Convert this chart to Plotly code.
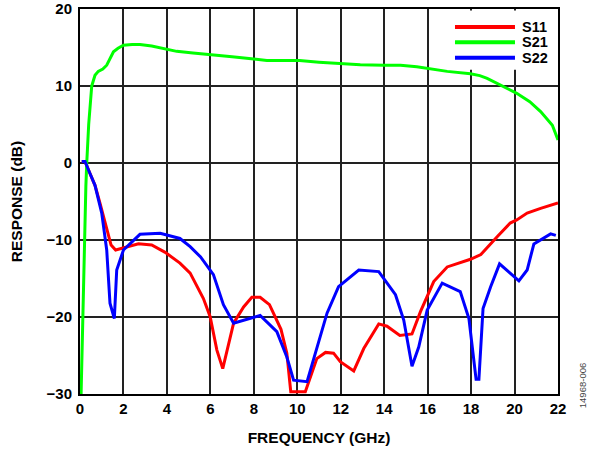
import plotly.graph_objects as go

# ---- data ----
freq_s21 = [0.05, 0.12, 0.2, 0.27, 0.31, 0.4, 0.54, 0.69, 0.84, 1.05, 1.23, 1.4, 1.54, 1.75,
            2.0, 2.4, 2.76, 3.3, 4.0, 4.45, 5.2, 6.0, 7.0, 8.0, 8.6, 9.5, 10.1, 11.0, 12.0,
            12.9, 14.0, 14.75, 15.5, 16.0, 16.9, 17.97, 18.4, 18.74, 19.35, 20.1, 20.7,
            21.2, 21.74, 22.0]
s21 = [-30, -20, -10, -3, 0, 5, 10, 11.4, 11.9, 12.2, 12.7, 13.6, 14.45, 14.9,
       15.3, 15.4, 15.4, 15.2, 14.8, 14.5, 14.3, 14.1, 13.8, 13.5, 13.3, 13.3, 13.3, 13.1, 12.95,
       12.75, 12.7, 12.7, 12.5, 12.3, 11.9, 11.6, 11.35, 11.0, 10.1, 9.05, 7.96,
       6.67, 4.9, 3.0]

freq_s11 = [0.08, 0.23, 0.45, 0.69, 0.92, 1.15, 1.43, 1.64, 1.92, 2.2, 2.69, 3.3, 3.92, 4.6,
            5.07, 5.68, 5.99, 6.3, 6.57, 7.07, 7.53, 7.91, 8.29, 8.72, 9.25, 9.52, 9.7, 10.37,
            10.9, 11.3, 11.67, 11.98, 12.6, 13.06, 13.75, 14.13, 14.72, 15.28, 15.67, 16.28,
            16.9, 17.97, 18.45, 19.2, 19.8, 20.1, 20.58, 21.2, 22.0]
s11 = [0.2, 0.2, -1.3, -2.9, -5.2, -7.8, -10.65, -11.3, -11.1, -10.8, -10.5, -10.65, -11.6, -13.0,
       -14.3, -17.6, -19.96, -24.3, -26.7, -20.8, -18.7, -17.45, -17.45, -18.4, -21.6, -24.7, -29.7, -29.7,
       -25.4, -24.6, -24.7, -25.8, -27.0, -24.1, -20.9, -21.2, -22.4, -22.2, -19.3, -15.4,
       -13.5, -12.5, -11.9, -9.57, -7.8, -7.4, -6.5, -5.9, -5.2]

freq_s22 = [0.08, 0.23, 0.45, 0.69, 1.0, 1.23, 1.38, 1.58, 1.69, 2.0, 2.76, 3.69, 4.6, 5.07,
            5.55, 6.14, 6.6, 7.07, 8.29, 9.06, 9.52, 9.83, 10.45, 11.37, 11.9, 12.83, 13.75,
            14.52, 14.9, 15.28, 15.59, 15.98, 16.67, 17.5, 17.9, 18.23, 18.36, 18.55, 18.9,
            19.31, 20.2, 20.58, 20.89, 21.66, 21.9]
s22 = [0.2, 0.2, -1.3, -2.9, -6.5, -11.3, -18.2, -20.2, -13.9, -11.3, -9.26, -9.13, -9.8, -10.87,
       -12.2, -14.5, -18.4, -20.8, -19.8, -21.9, -25.2, -28.2, -28.4, -19.5, -16.06, -13.9, -14.1,
       -17.1, -20.4, -26.4, -23.9, -19.1, -15.6, -16.7, -20.2, -28.1, -28.1, -18.9, -16.06,
       -13.1, -15.3, -13.9, -10.5, -9.2, -9.4]

series_names = ["S11", "S21", "S22"]
series_colors = ["#ff0000", "#00ff00", "#0000ff"]
x_ticks = [0, 2, 4, 6, 8, 10, 12, 14, 16, 18, 20, 22]
y_ticks = [-30, -20, -10, 0, 10, 20]

FONT = "Liberation Sans, Arial, sans-serif"

fig = go.Figure()
for fx, fy, nm, col in zip([freq_s11, freq_s21, freq_s22], [s11, s21, s22],
                           series_names, series_colors):
    fig.add_trace(go.Scatter(x=fx, y=fy, name=nm, mode="lines",
                             line=dict(color=col, width=3), showlegend=False))

# legend panel (white box hiding gridlines, long line samples, bold labels)
fig.add_shape(type="rect", xref="paper", yref="paper", x0=0.774, x1=0.997, y0=0.842, y1=0.996,
              fillcolor="white", line=dict(width=0), layer="above")
legend_rows = [0.9532, 0.9135, 0.8735]
for nm, col, ry in zip(series_names, series_colors, legend_rows):
    fig.add_shape(type="line", xref="paper", yref="paper", x0=0.7845, x1=0.910, y0=ry, y1=ry,
                  line=dict(color=col, width=4), layer="above")
    fig.add_annotation(text=nm, xref="paper", yref="paper", x=0.9215, y=ry,
                       xanchor="left", yanchor="middle", showarrow=False,
                       font=dict(family=FONT, size=14.5, color="black", weight="bold"))

fig.add_annotation(text="14968-006", xref="paper", yref="paper", x=1.067, y=-0.042,
                   textangle=-90, showarrow=False,
                   font=dict(family=FONT, size=9.5, color="#444"))

fig.update_layout(
    width=599, height=450,
    margin=dict(l=80, r=41, t=9, b=56, autoexpand=False),
    paper_bgcolor="white", plot_bgcolor="white",
    font=dict(family=FONT, color="black"),
    showlegend=False,
)
fig.update_xaxes(range=[0, 22], tickvals=x_ticks, showgrid=True, gridcolor="#222",
                 gridwidth=1.5, showline=True, linecolor="black", linewidth=2, mirror=True,
                 zeroline=False, ticks="", ticklabelstandoff=0,
                 tickfont=dict(family=FONT, size=15, color="black", weight="bold"),
                 title=dict(text="FREQUENCY (GHz)", standoff=16,
                            font=dict(family=FONT, size=15.5, color="black", weight="bold")))
fig.update_yaxes(range=[-30, 20], tickvals=y_ticks, showgrid=True, gridcolor="#222",
                 gridwidth=1.5, showline=True, linecolor="black", linewidth=2, mirror=True,
                 zeroline=False, ticks="", ticklabelstandoff=3,
                 tickfont=dict(family=FONT, size=15, color="black", weight="bold"),
                 title=dict(text="RESPONSE (dB)", standoff=20,
                            font=dict(family=FONT, size=15.5, color="black", weight="bold")))

fig.write_html("out.html")
